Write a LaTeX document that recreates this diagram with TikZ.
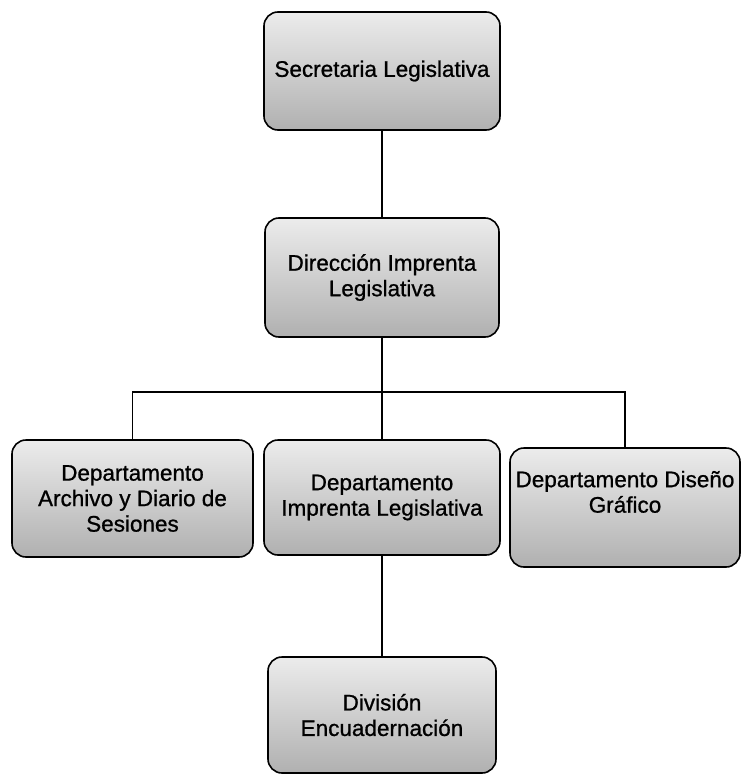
\documentclass[tikz,border=0pt]{standalone}
\usepackage{fontspec}
\setmainfont{Liberation Sans}
\newfontfamily\boxfont{Liberation Sans}[FakeBold=0.9]
\begin{document}
\begin{tikzpicture}[x=1pt,y=-1pt,
  orgbox/.style={draw=black, line width=1.6pt, rounded corners=14pt,
    top color=gray!15, bottom color=gray!62, align=center,
    inner sep=0pt, font=\boxfont\fontsize{22.5}{25.5}\selectfont},
  link/.style={draw=black, line width=1.1pt}]
\useasboundingbox (0,0) rectangle (742,776);
\node[orgbox, minimum width=236pt, minimum height=118pt] (sec) at (382,71) {Secretaria Legislativa};
\node[orgbox, minimum width=234pt, minimum height=119pt] (dir) at (382,277.5) {Dirección Imprenta\\Legislativa};
\node[orgbox, minimum width=241pt, minimum height=117pt] (dA) at (132.5,498.5) {Departamento\\Archivo y Diario de\\Sesiones};
\node[orgbox, minimum width=236pt, minimum height=115pt] (dI) at (382,497.5) {Departamento\\Imprenta Legislativa};
\node[orgbox, minimum width=230pt, minimum height=119pt] (dD) at (625,507.5) {Departamento Diseño\\Gráfico\\[6pt]};
\node[orgbox, minimum width=228pt, minimum height=116pt] (div) at (382,715) {División\\Encuadernación};
\coordinate (bus) at (0,392);
\path[link] (sec.south) -- (dir.north);
\path[link] (dir.south) -- (dI.north);
\path[link] (dA.north) -- (dA.north |- bus) -- (dD.north |- bus) -- (dD.north);
\path[link] (dI.south) -- (div.north);
\end{tikzpicture}
\end{document}
